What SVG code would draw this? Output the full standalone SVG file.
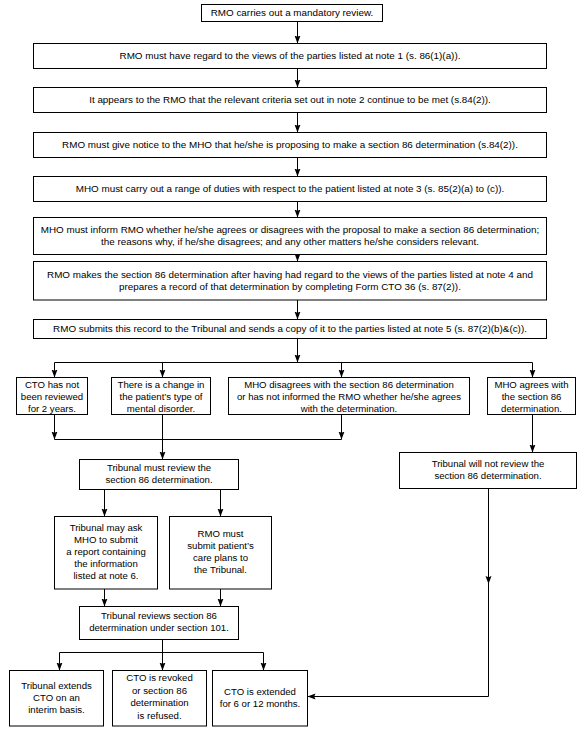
<svg xmlns="http://www.w3.org/2000/svg" width="588" height="739" viewBox="0 0 588 739">
<defs>
<style>
.box{fill:#fff;stroke:#000;stroke-width:1}
.t{font-family:"Liberation Sans",Arial,Helvetica,sans-serif;font-size:9.6px;text-anchor:middle;fill:#000}
.w{font-size:9.85px}
.c{fill:none;stroke:#000;stroke-width:1}
.a{fill:none;stroke:#000;stroke-width:1;marker-end:url(#ah)}
</style>
<marker id="ah" markerUnits="userSpaceOnUse" markerWidth="9" markerHeight="7" refX="8" refY="3.5" orient="auto">
<path d="M0,0.5 L8,3.5 L0,6.5 L1.3,3.5 z" fill="#000"/>
</marker>
</defs>
<rect width="588" height="739" fill="#fff"/>

<g id="connectors">
<path class="a" d="M297.5,21.5 V43.5"/>
<path class="a" d="M297.5,68.5 V87.5"/>
<path class="a" d="M297.5,112.5 V132.5"/>
<path class="a" d="M297.5,157.5 V176.5"/>
<path class="a" d="M297.5,201.5 V217.5"/>
<path class="a" d="M297.5,254.5 V261.5"/>
<path class="a" d="M297.5,300 V319.5"/>
<path class="a" d="M297.5,338.5 V362.5"/>
<path class="c" d="M54.5,362.5 H532.5"/>
<path class="a" d="M54.5,362.5 V377.5"/>
<path class="a" d="M162.5,362.5 V377.5"/>
<path class="a" d="M341.5,362.5 V377.5"/>
<path class="a" d="M532.5,362.5 V377.5"/>
<path class="a" d="M54.5,414.5 V439.5"/>
<path class="a" d="M341.5,414.5 V439.5"/>
<path class="c" d="M54.5,439.5 H341.5"/>
<path class="a" d="M162.5,414.5 V459.5"/>
<path class="a" d="M532.5,414.5 V452.5"/>
<path class="a" d="M104.5,489.5 V516.5"/>
<path class="a" d="M220.5,489.5 V516.5"/>
<path class="a" d="M104.5,589 V606.5"/>
<path class="a" d="M220.5,589 V606.5"/>
<path class="c" d="M162.5,639.5 V652.5"/>
<path class="c" d="M59.5,652.5 H263.5"/>
<path class="a" d="M59.5,652.5 V670.5"/>
<path class="a" d="M162.5,652.5 V670.5"/>
<path class="a" d="M263.5,652.5 V670.5"/>
<path class="a" d="M488.5,488.5 V584"/>
<path class="a" d="M488.5,583 V696.5 H307.5"/>
</g>

<g id="n1"><rect class="box" x="201.5" y="4.5" width="181" height="17"/>
<text class="t w" x="292" y="16">RMO carries out a mandatory review.</text></g>

<g id="n2"><rect class="box" x="33.5" y="43.5" width="513" height="25"/>
<text class="t w" x="290" y="59">RMO must have regard to the views of the parties listed at note 1 (s. 86(1)(a)).</text></g>

<g id="n3"><rect class="box" x="33.5" y="87.5" width="513" height="25"/>
<text class="t w" x="290" y="103">It appears to the RMO that the relevant criteria set out in note 2 continue to be met (s.84(2)).</text></g>

<g id="n4"><rect class="box" x="33.5" y="132.5" width="513" height="25"/>
<text class="t w" x="290" y="148">RMO must give notice to the MHO that he/she is proposing to make a section 86 determination (s.84(2)).</text></g>

<g id="n5"><rect class="box" x="33.5" y="176.5" width="513" height="25"/>
<text class="t w" x="290" y="192">MHO must carry out a range of duties with respect to the patient listed at note 3 (s. 85(2)(a) to (c)).</text></g>

<g id="n6"><rect class="box" x="33.5" y="217.5" width="513" height="37"/>
<text class="t w" x="290" y="233">MHO must inform RMO whether he/she agrees or disagrees with the proposal to make a section 86 determination;</text>
<text class="t w" x="290" y="245">the reasons why, if he/she disagrees; and any other matters he/she considers relevant.</text></g>

<g id="n7"><rect class="box" x="33.5" y="261.5" width="513" height="38.5"/>
<text class="t w" x="290" y="278">RMO makes the section 86 determination after having had regard to the views of the parties listed at note 4 and</text>
<text class="t w" x="290" y="290">prepares a record of that determination by completing Form CTO 36 (s. 87(2)).</text></g>

<g id="n8"><rect class="box" x="33.5" y="319.5" width="513" height="19"/>
<text class="t w" x="290" y="332">RMO submits this record to the Tribunal and sends a copy of it to the parties listed at note 5 (s. 87(2)(b)&amp;(c)).</text></g>

<g id="n9"><rect class="box" x="16.5" y="377.5" width="71" height="37"/>
<text class="t" x="52" y="388">CTO has not</text>
<text class="t" x="52" y="400">been reviewed</text>
<text class="t" x="52" y="412">for 2 years.</text></g>

<g id="n10"><rect class="box" x="111.5" y="377.5" width="99" height="37"/>
<text class="t" x="161" y="388">There is a change in</text>
<text class="t" x="161" y="400">the patient’s type of</text>
<text class="t" x="161" y="412">mental disorder.</text></g>

<g id="n11"><rect class="box" x="228.5" y="377.5" width="241" height="37"/>
<text class="t" x="349" y="388">MHO disagrees with the section 86 determination</text>
<text class="t" x="349" y="400">or has not informed the RMO whether he/she agrees</text>
<text class="t" x="349" y="412">with the determination.</text></g>

<g id="n12"><rect class="box" x="487.5" y="377.5" width="88" height="37"/>
<text class="t" x="531.5" y="388">MHO agrees with</text>
<text class="t" x="531.5" y="400">the section 86</text>
<text class="t" x="531.5" y="412">determination.</text></g>

<g id="n13"><rect class="box" x="79.5" y="459.5" width="159" height="30"/>
<text class="t" x="159" y="471">Tribunal must review the</text>
<text class="t" x="159" y="483">section 86 determination.</text></g>

<g id="n14"><rect class="box" x="399.5" y="452.5" width="177" height="36"/>
<text class="t" x="488" y="467">Tribunal will not review the</text>
<text class="t" x="488" y="479">section 86 determination.</text></g>

<g id="n15"><rect class="box" x="54.5" y="516.5" width="103" height="72.5"/>
<text class="t" x="106" y="531">Tribunal may ask</text>
<text class="t" x="106" y="543">MHO to submit</text>
<text class="t" x="106" y="555">a report containing</text>
<text class="t" x="106" y="567">the information</text>
<text class="t" x="106" y="579">listed at note 6.</text></g>

<g id="n16"><rect class="box" x="169.5" y="516.5" width="102" height="72.5"/>
<text class="t" x="220.5" y="537">RMO must</text>
<text class="t" x="220.5" y="549">submit patient’s</text>
<text class="t" x="220.5" y="561">care plans to</text>
<text class="t" x="220.5" y="573">the Tribunal.</text></g>

<g id="n17"><rect class="box" x="79.5" y="606.5" width="159" height="33"/>
<text class="t" x="159" y="619">Tribunal reviews section 86</text>
<text class="t" x="159" y="631">determination under section 101.</text></g>

<g id="n18"><rect class="box" x="9.5" y="670.5" width="94" height="55.5"/>
<text class="t" x="56.5" y="689">Tribunal extends</text>
<text class="t" x="56.5" y="701">CTO on an</text>
<text class="t" x="56.5" y="713">interim basis.</text></g>

<g id="n19"><rect class="box" x="112.5" y="670.5" width="94" height="55.5"/>
<text class="t" x="159.5" y="681">CTO is revoked</text>
<text class="t" x="159.5" y="693.5">or section 86</text>
<text class="t" x="159.5" y="706">determination</text>
<text class="t" x="159.5" y="718.5">is refused.</text></g>

<g id="n20"><rect class="box" x="212.5" y="670.5" width="95" height="55.5"/>
<text class="t" x="260" y="695">CTO is extended</text>
<text class="t" x="260" y="707">for 6 or 12 months.</text></g>
</svg>
